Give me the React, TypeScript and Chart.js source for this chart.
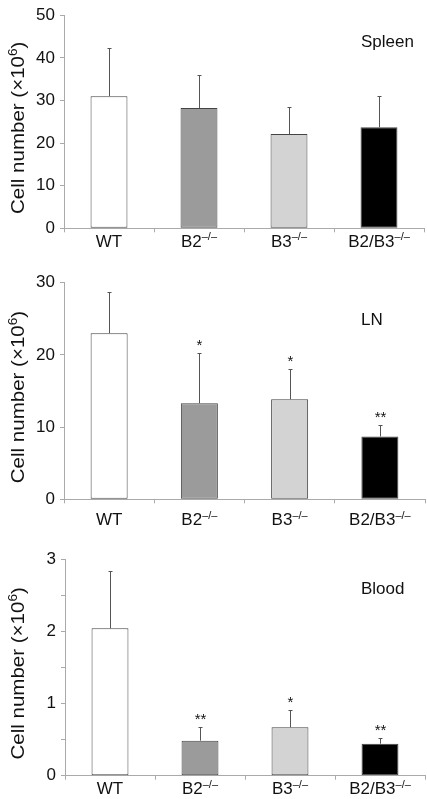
import React, { useEffect, useRef } from "react";
import { Chart, registerables } from "chart.js";

Chart.register(...registerables);

// ---------- data ----------
const categories = ["WT", "B2", "B3", "B2/B3"];
const superscripts = ["", "–/–", "–/–", "–/–"];
const barColors = ["#ffffff", "#9b9b9b", "#d3d3d3", "#000000"];

const spleenMeans = [31.0, 28.2, 22.1, 23.7];
const spleenUpper = [42.4, 36.0, 28.5, 31.1];
const spleenStars = ["", "", "", ""];
const spleenTicks = [0, 10, 20, 30, 40, 50];

const lnMeans = [23.0, 13.3, 13.85, 8.7];
const lnUpper = [28.7, 20.2, 18.0, 10.3];
const lnStars = ["", "*", "*", "**"];
const lnTicks = [0, 10, 20, 30];

const bloodMeans = [2.04, 0.485, 0.67, 0.443];
const bloodUpper = [2.84, 0.67, 0.905, 0.526];
const bloodStars = ["", "**", "*", "**"];
const bloodTicks = [0, 1, 2, 3];

const FONT = "'Liberation Sans', Arial, Helvetica, sans-serif";

type PanelDef = {
  name: string;
  means: number[];
  upper: number[];
  stars: string[];
  ticks: number[];
  step: number;
  top: number;
  height: number;
  plotTop: number;
  plotBottom: number;
  left: number;
  right: number;
  labelOffset: number;
  nameBaseline: number;
};

const panels: PanelDef[] = [
  {
    name: "Spleen", means: spleenMeans, upper: spleenUpper, stars: spleenStars, ticks: spleenTicks, step: 10,
    top: 0, height: 262, plotTop: 11.7, plotBottom: 228.3, left: 64, right: 424, labelOffset: 18.4, nameBaseline: 46.7,
  },
  {
    name: "LN", means: lnMeans, upper: lnUpper, stars: lnStars, ticks: lnTicks, step: 10,
    top: 262, height: 270, plotTop: 282.7, plotBottom: 499.3, left: 64, right: 425, labelOffset: 25.7, nameBaseline: 325,
  },
  {
    name: "Blood", means: bloodMeans, upper: bloodUpper, stars: bloodStars, ticks: bloodTicks, step: 0.5,
    top: 532, height: 267, plotTop: 559, plotBottom: 775.7, left: 65, right: 425, labelOffset: 18.6, nameBaseline: 594,
  },
];

function Panel({ p }: { p: PanelDef }) {
  const ref = useRef<HTMLCanvasElement | null>(null);

  useEffect(() => {
    const canvas = ref.current;
    if (!canvas) return;
    const padTop = p.plotTop - p.top;
    const xHeight = p.height - (p.plotBottom - p.top);
    const maxV = p.ticks[p.ticks.length - 1];

    const overlay = {
      id: "overlay" + p.name,
      afterDatasetsDraw(chart: any) {
        const ctx = chart.ctx as CanvasRenderingContext2D;
        const xs = chart.scales.x;
        const ys = chart.scales.y;
        const area = chart.chartArea;
        ctx.save();
        // error bars + stars
        for (let i = 0; i < p.means.length; i++) {
          const cx = Math.round(xs.getPixelForValue(i)) + 0.5;
          const yTop = ys.getPixelForValue(p.means[i]);
          const yUp = Math.round(ys.getPixelForValue(p.upper[i])) + 0.5;
          ctx.strokeStyle = "#555";
          ctx.lineWidth = 1;
          ctx.beginPath();
          ctx.moveTo(cx, yTop);
          ctx.lineTo(cx, yUp);
          ctx.moveTo(cx - 2, yUp);
          ctx.lineTo(cx + 2, yUp);
          ctx.stroke();
          if (p.stars[i]) {
            ctx.fillStyle = "#111";
            ctx.font = `15px ${FONT}`;
            ctx.textAlign = "center";
            ctx.textBaseline = "alphabetic";
            ctx.fillText(p.stars[i], cx, yUp - 3.5);
          }
        }
        // x labels with superscripts
        ctx.fillStyle = "#111";
        ctx.textBaseline = "alphabetic";
        ctx.textAlign = "left";
        const base = area.bottom + p.labelOffset;
        for (let i = 0; i < categories.length; i++) {
          const cx = xs.getPixelForValue(i);
          ctx.font = `17px ${FONT}`;
          const mw = ctx.measureText(categories[i]).width;
          ctx.font = `11px ${FONT}`;
          const sw = superscripts[i] ? ctx.measureText(superscripts[i]).width : 0;
          const start = cx - (mw + sw) / 2;
          ctx.font = `17px ${FONT}`;
          ctx.fillText(categories[i], start, base);
          if (superscripts[i]) {
            ctx.font = `11px ${FONT}`;
            ctx.fillText(superscripts[i], start + mw, base - 6.5);
          }
        }
        // panel name
        ctx.font = `17px ${FONT}`;
        ctx.fillText(p.name, 361, p.nameBaseline - p.top);
        // y title
        const cy = (area.top + area.bottom) / 2 + 6;
        ctx.translate(23.5, cy);
        ctx.rotate(-Math.PI / 2);
        ctx.scale(1.14, 1);
        const t1 = "Cell number (×10";
        const t2 = "6";
        const t3 = ")";
        ctx.font = `18px ${FONT}`;
        const w1 = ctx.measureText(t1).width;
        const w3 = ctx.measureText(t3).width;
        ctx.font = `12px ${FONT}`;
        const w2 = ctx.measureText(t2).width;
        const total = w1 + w2 + w3;
        let sx = -total / 2;
        ctx.font = `18px ${FONT}`;
        ctx.fillText(t1, sx, 0);
        sx += w1;
        ctx.font = `12px ${FONT}`;
        ctx.fillText(t2, sx, -7);
        sx += w2;
        ctx.font = `18px ${FONT}`;
        ctx.fillText(t3, sx, 0);
        ctx.restore();
      },
    };

    const chart = new Chart(canvas, {
      type: "bar",
      data: {
        labels: categories,
        datasets: [
          {
            data: p.means,
            backgroundColor: barColors,
            borderColor: "#444",
            borderWidth: 1,
            borderSkipped: false,
            barPercentage: 0.41,
            categoryPercentage: 1,
          },
        ],
      },
      options: {
        responsive: false,
        animation: false,
        devicePixelRatio: 1,
        layout: { padding: { top: padTop, left: 0, right: 427 - p.right, bottom: 0 } },
        plugins: { legend: { display: false }, tooltip: { enabled: false } },
        scales: {
          x: {
            offset: true,
            grid: { offset: true, drawOnChartArea: false, drawTicks: true, tickLength: 4, color: "#aaa", tickColor: "#aaa" },
            border: { color: "#aaa", width: 1 },
            ticks: { display: false },
            afterFit: (s: any) => {
              s.height = xHeight;
            },
          },
          y: {
            min: 0,
            max: maxV,
            grid: { drawOnChartArea: false, drawTicks: true, tickLength: 4, color: "#aaa", tickColor: "#aaa" },
            border: { color: "#aaa", width: 1 },
            ticks: {
              stepSize: p.step,
              padding: 5,
              color: "#111",
              font: { family: FONT, size: 17 },
              callback: (v: any) => (p.ticks.includes(Number(v)) ? String(v) : ""),
            },
            afterFit: (s: any) => {
              s.width = p.left;
            },
          },
        },
      },
      plugins: [overlay],
    });
    return () => chart.destroy();
  }, [p]);

  return (
    <canvas
      ref={ref}
      width={427}
      height={p.height}
      style={{ position: "absolute", left: 0, top: p.top, width: 427, height: p.height }}
    />
  );
}

export default function App() {
  return (
    <div style={{ position: "absolute", left: 0, top: 0, width: 427, height: 799, background: "#fff" }}>
      {panels.map((p) => (
        <Panel key={p.name} p={p} />
      ))}
    </div>
  );
}
